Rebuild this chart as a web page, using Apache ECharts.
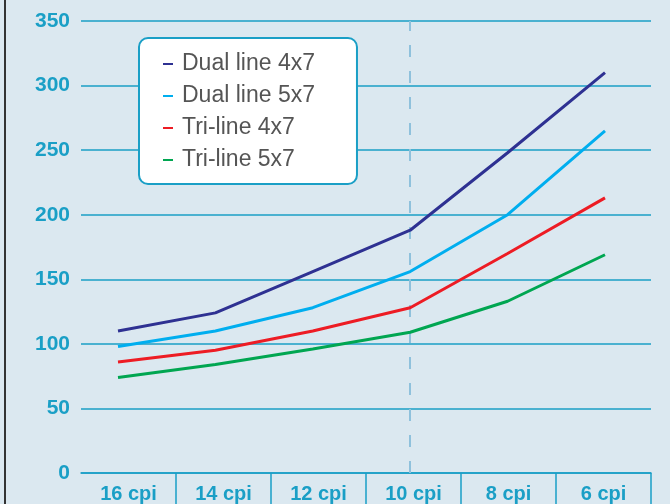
<!DOCTYPE html>
<html><head><meta charset="utf-8">
<script src="https://cdn.jsdelivr.net/npm/echarts@6/dist/echarts.min.js"></script>
<style>html,body{margin:0;padding:0;background:#dbe8f0;}#c{width:670px;height:504px;}</style>
</head><body><div id="c"></div>
<script>
var categories = ['16 cpi','14 cpi','12 cpi','10 cpi','8 cpi','6 cpi'];
var dual4x7 = [110, 124, 156, 188, 248, 310];
var dual5x7 = [98, 110, 128, 156, 200, 265];
var tri4x7 = [86, 95, 110, 128, 170, 213];
var tri5x7 = [74, 84, 96, 109, 133, 169];
var seriesNames = ['Dual line 4x7','Dual line 5x7','Tri-line 4x7','Tri-line 5x7'];
var yTicks = [0,50,100,150,200,250,300,350];

var blue = '#1a9fc6';
var colors = ['#2e3192','#00aeef','#ed1c24','#00a651'];
var chart = echarts.init(document.getElementById('c'));
function mk(name, data, color){
  return {name:name, type:'line', xAxisIndex:1, yAxisIndex:1, data:data, symbol:'none',
    lineStyle:{width:3,color:color}, itemStyle:{color:color}, z:5};
}
var s = [mk(seriesNames[0],dual4x7,colors[0]),mk(seriesNames[1],dual5x7,colors[1]),mk(seriesNames[2],tri4x7,colors[2]),mk(seriesNames[3],tri5x7,colors[3])];
s[0].markLine = {silent:true, symbol:'none', label:{show:false},
  lineStyle:{type:[12,14],color:'#8fc1dc',width:2}, data:[{xAxis:'10 cpi'}]};
chart.setOption({
  backgroundColor:'#dbe8f0',
  animation:false,
  textStyle:{fontFamily:'Liberation Sans'},
  graphic:[{type:'rect', shape:{x:4,y:0,width:2,height:504}, style:{fill:'#333'}}],
  grid:[{left:81,right:19,top:21,bottom:31},{left:118,right:65,top:21,bottom:31}],
  legend:{show:true, orient:'vertical', left:139, top:38, data:seriesNames,
    backgroundColor:'#fff', borderColor:blue, borderWidth:2, borderRadius:9,
    padding:[13,42,11,24], itemGap:6, itemWidth:10, itemHeight:2, icon:'rect',
    textStyle:{fontSize:23, lineHeight:26, color:'#555', fontFamily:'Liberation Sans', padding:[0,0,0,4]}},
  xAxis:[{type:'category', gridIndex:0, data:categories, boundaryGap:true,
    axisLine:{show:true,lineStyle:{color:blue,width:1.5}},
    axisTick:{show:true, length:35, lineStyle:{color:blue,width:1.5}, interval:function(i){return i>0 && i<6;}},
    axisLabel:{color:blue, fontWeight:'bold', fontSize:20, margin:11, fontFamily:'Liberation Sans'},
    splitLine:{show:false}},
    {type:'category', gridIndex:1, data:categories, boundaryGap:false, show:false}],
  yAxis:[{type:'value', gridIndex:0, min:0, max:350, interval:50,
    axisLine:{show:false}, axisTick:{show:false},
    axisLabel:{color:blue, fontWeight:'bold', fontSize:21, margin:11, fontFamily:'Liberation Sans'},
    splitLine:{lineStyle:{color:blue,width:1.5}}},
    {type:'value', gridIndex:1, min:0, max:350, interval:50, show:false, splitLine:{show:false}}],
  series:s
});
</script></body></html>
